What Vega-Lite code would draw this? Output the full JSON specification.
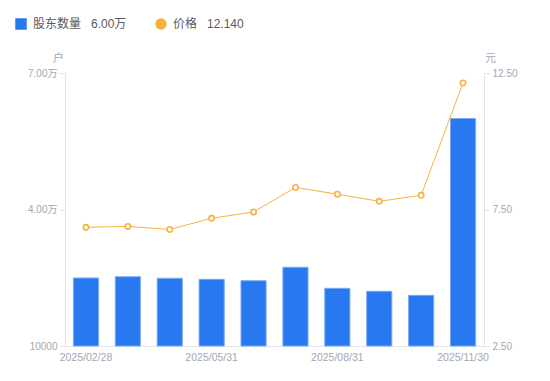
{
  "$schema": "https://vega.github.io/schema/vega-lite/v6.json",
  "width": 419,
  "height": 273,
  "autosize": {"type": "none"},
  "padding": {"left": 65, "top": 73, "right": 66, "bottom": 35},
  "background": "white",
  "config": {
    "font": "Liberation Sans, Noto Sans CJK SC, sans-serif",
    "view": {"stroke": null},
    "axis": {
      "labelColor": "#a3a6b3",
      "labelFontSize": 10,
      "domainColor": "#e3e4e8",
      "tickColor": "#e3e4e8",
      "grid": false,
      "titleColor": "#a3a6b3",
      "titleFontSize": 11,
      "titleFontWeight": "normal"
    },
    "legend": {
      "title": null,
      "orient": "none",
      "legendX": -50,
      "legendY": -55,
      "direction": "horizontal",
      "labelFontSize": 12,
      "labelColor": "#555a66",
      "columnPadding": 26,
      "labelOffset": 6
    }
  },
  "data": {"values": [
    {"date": "2025/02/28", "holders": 24950, "price": 6.85},
    {"date": "2025/03/31", "holders": 25230, "price": 6.88},
    {"date": "2025/04/30", "holders": 24880, "price": 6.77},
    {"date": "2025/05/31", "holders": 24660, "price": 7.18},
    {"date": "2025/06/30", "holders": 24350, "price": 7.41},
    {"date": "2025/07/31", "holders": 27300, "price": 8.31},
    {"date": "2025/08/31", "holders": 22680, "price": 8.06},
    {"date": "2025/09/30", "holders": 22020, "price": 7.80},
    {"date": "2025/10/31", "holders": 21140, "price": 8.02},
    {"date": "2025/11/30", "holders": 60000, "price": 12.14}
  ]},
  "encoding": {
    "x": {
      "field": "date", "type": "ordinal", "sort": null,
      "scale": {"paddingInner": 0.4, "paddingOuter": 0.2},
      "axis": {
        "title": null,
        "values": ["2025/02/28", "2025/05/31", "2025/08/31", "2025/11/30"],
        "labelAngle": 0,
        "ticks": false,
        "labelPadding": 6,
        "labelFontSize": 10.5
      }
    }
  },
  "layer": [
    {
      "mark": {"type": "bar", "fill": "#2878f0", "stroke": "#7aabf7", "strokeWidth": 1},
      "encoding": {
        "y": {
          "field": "holders", "type": "quantitative",
          "scale": {"domain": [10000, 70000], "zero": false, "nice": false},
          "axis": {
            "title": "户",
            "titleAngle": 0,
            "titleX": -7,
            "titleY": -10,
            "titleAlign": "center",
            "titleBaseline": "bottom",
            "values": [10000, 40000, 70000],
            "tickSize": 6,
            "labelPadding": 2,
            "labelExpr": "datum.value >= 20000 ? format(datum.value / 10000, '.2f') + '万' : format(datum.value, 'd')"
          }
        },
        "y2": {"datum": 10000},
        "color": {
          "datum": "股东数量",
          "scale": {"domain": ["股东数量", "价格"], "range": ["#2878f0", "#f7b23b"]},
          "legend": {
            "labelExpr": "datum.label === '价格' ? '价格\u00a0\u00a0\u00a012.140' : '股东数量\u00a0\u00a0\u00a06.00万'"
          }
        }
      }
    },
    {
      "layer": [
        {
          "mark": {"type": "line", "strokeWidth": 1},
          "encoding": {
            "y": {
              "field": "price", "type": "quantitative",
              "scale": {"domain": [2.5, 12.5], "zero": false, "nice": false},
              "axis": {
                "orient": "right",
                "title": "元",
                "titleAngle": 0,
                "titleX": 6,
                "titleY": -10,
                "titleAlign": "center",
                "titleBaseline": "bottom",
                "values": [2.5, 7.5, 12.5],
                "format": ".2f",
                "tickSize": 5,
                "labelPadding": 3
              }
            },
            "color": {"datum": "价格"}
          }
        },
        {
          "mark": {"type": "point", "filled": false, "fill": "#ffffff", "strokeWidth": 1.6, "size": 28, "opacity": 1},
          "encoding": {
            "y": {"field": "price", "type": "quantitative"},
            "color": {
              "datum": "价格",
              "legend": {
                "labelExpr": "datum.label === '价格' ? '价格\u00a0\u00a0\u00a012.140' : '股东数量\u00a0\u00a0\u00a06.00万'"
              }
            },
            "shape": {
              "datum": "价格",
              "scale": {"domain": ["股东数量", "价格"], "range": ["square", "circle"]},
              "legend": {
                "labelExpr": "datum.label === '价格' ? '价格\u00a0\u00a0\u00a012.140' : '股东数量\u00a0\u00a0\u00a06.00万'"
              }
            }
          }
        }
      ]
    }
  ],
  "resolve": {"scale": {"y": "independent"}}
}
